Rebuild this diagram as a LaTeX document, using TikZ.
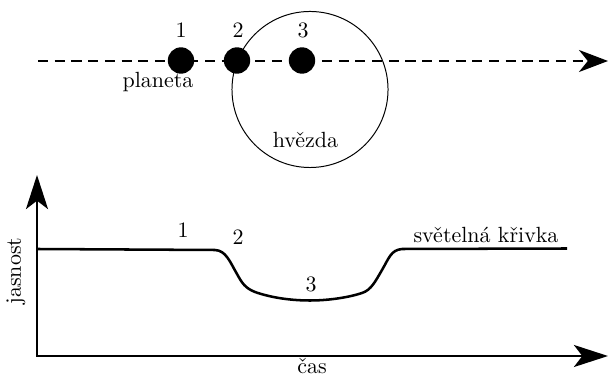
\documentclass[tikz,border=0pt]{standalone}
\usepackage{fontspec}
\usetikzlibrary{arrows.meta}
\begin{document}
\begin{tikzpicture}[x=0.455pt,y=-0.455pt,
  thickline/.style={line width=1.15pt},
  toparrow/.style={-{Stealth[length=13.2pt,width=10pt,inset=4pt]}},
  axisarrows/.style={{Stealth[length=15.5pt,width=10pt,inset=3.8pt]}-{Stealth[length=15.5pt,width=10pt,inset=3.8pt]}},
  planet/.style={circle,fill=black,minimum size=12pt,inner sep=0pt},
  lbl/.style={inner sep=0pt,font=\fontsize{10}{12}\selectfont}]
\useasboundingbox (0,0) rectangle (610,377);
% top part
\coordinate (dl) at (38,61);
\coordinate (dr) at (608,61);
\node[draw,circle,line width=0.45pt,minimum size=71pt,inner sep=0pt] (star) at (310,89.5) {};
\draw[thickline,dash pattern=on 4.6pt off 3pt,toparrow] (dl) -- (dr);
\node[planet] (p1) at (181,60.5) {};
\node[planet] (p2) at (237,60.5) {};
\node[planet] (p3) at (302,60.5) {};
\node[lbl] (n1) at (181,30) {1};
\node[lbl] (n2) at (238,30) {2};
\node[lbl] (n3) at (303,30) {3};
\node[lbl] (planeta) at (158,82) {planeta};
\node[lbl] (hvezda) at (305.5,140) {hvězda};
% bottom part
\coordinate (o) at (37,356);
\coordinate (ytip) at (37,175);
\coordinate (xtip) at (608,356);
\draw[thickline,axisarrows] (ytip) -- (o) -- (xtip);
\draw[thickline,line join=round] (37,249) -- (215,250)
  .. controls (226,250.5) and (230,262) .. (237,274)
  .. controls (242,283) and (245,288) .. (255,292)
  .. controls (272,298) and (292,300.5) .. (310,300.5)
  .. controls (330,300.5) and (350,297) .. (362,293)
  .. controls (371,290) and (375,282) .. (382,270)
  .. controls (389,258) and (391,250) .. (402,249)
  -- (567,248.5);
\node[lbl] (c1) at (183,230) {1};
\node[lbl] (c2) at (238,237) {2};
\node[lbl] (c3) at (311,284) {3};
\node[lbl] (krivka) at (486,235) {světelná křivka};
\node[lbl,rotate=90] (jasnost) at (16,271) {jasnost};
\node[lbl] (cas) at (312,366) {čas};
\end{tikzpicture}
\end{document}
